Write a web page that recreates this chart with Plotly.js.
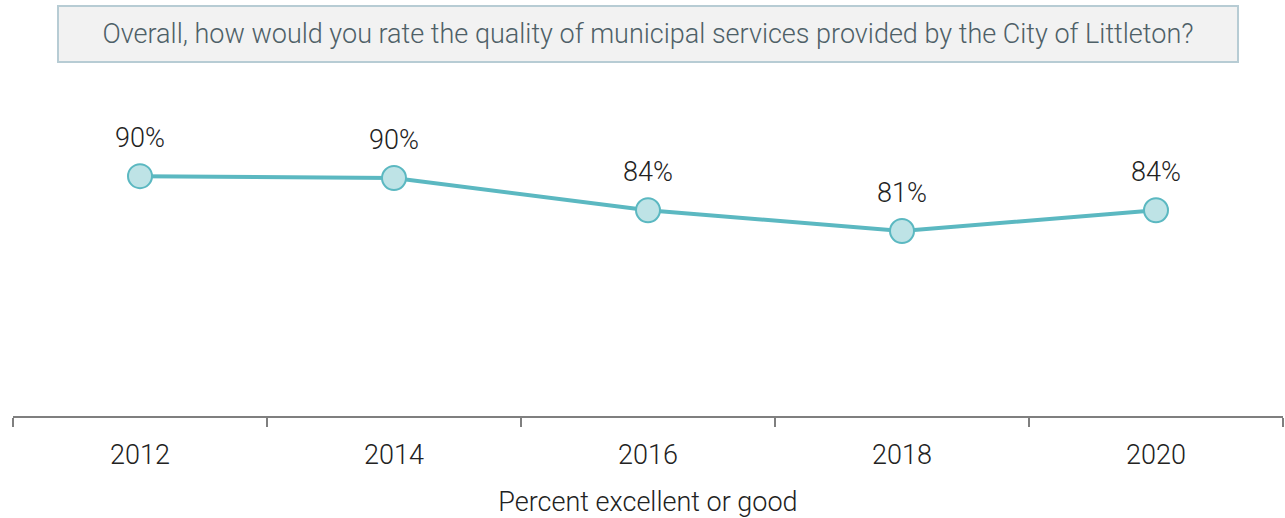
<!DOCTYPE html>
<html>
<head>
<meta charset="utf-8">
<script src="https://cdn.plot.ly/plotly-3.0.1.min.js"></script>
<style>html,body{margin:0;padding:0;background:#fff}#chart{width:1285px;height:518px}</style>
</head>
<body>
<div id="chart"></div>
<script>
const years = ["2012", "2014", "2016", "2018", "2020"];
const values = [90.0, 89.7, 84.4, 81.0, 84.4];
const labels = ["90%", "90%", "84%", "81%", "84%"];
const questionText = "Overall, how would you rate the quality of municipal services provided by the City of Littleton?";
const axisTitle = "Percent excellent or good";

const FONT = "Roboto, 'Open Sans', sans-serif";

const trace = {
  x: years,
  y: values,
  type: "scatter",
  mode: "lines+markers",
  line: {color: "#5bb8c1", width: 4},
  marker: {size: 24, color: "#bee3e6", line: {color: "#5bb8c1", width: 2}},
  hoverinfo: "skip",
  cliponaxis: false
};

const annotations = years.map((yr, i) => ({
  x: i, y: values[i], xref: "x", yref: "y",
  text: labels[i], showarrow: false,
  yanchor: "middle", yshift: 38,
  font: {family: FONT, size: 27, color: "#222", weight: 300}
}));

annotations.push({
  x: 0.5, y: (416 - 34) / 310, xref: "paper", yref: "paper",
  xanchor: "center", yanchor: "middle",
  text: questionText, showarrow: false,
  width: 1176, height: 52, borderpad: 1,
  bgcolor: "#f2f2f2", bordercolor: "#b7ccd4", borderwidth: 2,
  font: {family: FONT, size: 27, color: "#4e6067", weight: 300}
});

const layout = {
  width: 1285, height: 518,
  margin: {l: 13, r: 2, t: 106, b: 102},
  paper_bgcolor: "#ffffff", plot_bgcolor: "#ffffff",
  showlegend: false,
  font: {family: FONT, weight: 300},
  xaxis: {
    type: "category",
    range: [-0.5, 4.5],
    showline: true, linecolor: "#7f7f7f", linewidth: 2,
    ticks: "outside", tickson: "boundaries", ticklen: 9, tickwidth: 2, tickcolor: "#7f7f7f",
    ticklabelstandoff: 14,
    showgrid: false, zeroline: false,
    tickfont: {family: FONT, size: 27, color: "#222", weight: 300},
    title: {text: axisTitle, standoff: 22, font: {family: FONT, size: 27, color: "#222", weight: 300}},
    fixedrange: true
  },
  yaxis: {
    range: [50.67, 101.5],
    visible: false, showgrid: false, zeroline: false, fixedrange: true
  },
  annotations: annotations
};

Plotly.newPlot("chart", [trace], layout, {displayModeBar: false, staticPlot: true});
</script>
</body>
</html>
